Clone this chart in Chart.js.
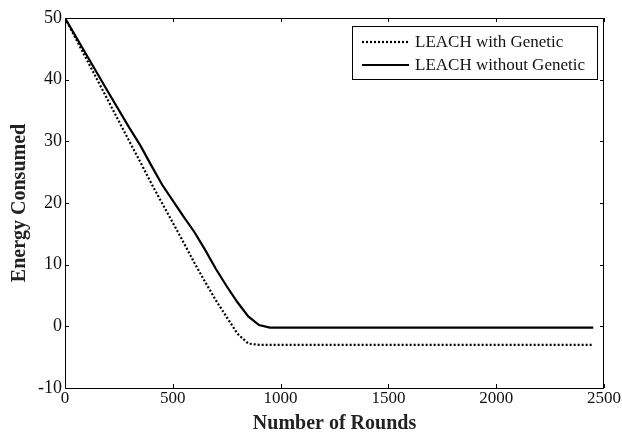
<!DOCTYPE html>
<html>
<head>
<meta charset="utf-8">
<script src="https://cdn.jsdelivr.net/npm/chart.js@4/dist/chart.umd.min.js"></script>
<style>
    html, body { margin: 0; padding: 0; background: #fff; }
    #wrap { width: 622px; height: 434px; }
</style>
</head>
<body>
<div id="wrap"><canvas id="energyChart"></canvas></div>
<script>
const rounds = [0, 100, 200, 300, 350, 400, 450, 500, 550, 600, 650, 700, 750, 800, 850, 900, 950, 1000, 1500, 2000, 2450];
const withGenetic = [50, 43.3, 36.6, 29.9, 26.6, 23.2, 20, 16.8, 13.6, 10.3, 7.2, 4.2, 1.5, -1.2, -2.8, -3, -3, -3, -3, -3, -3];
const withoutGenetic = [50, 44, 38, 32.1, 29.3, 26.1, 23, 20.4, 17.8, 15.3, 12.4, 9.3, 6.5, 3.9, 1.6, 0.2, -0.2, -0.2, -0.2, -0.2, -0.2];
const xTicks = [0, 500, 1000, 1500, 2000, 2500];
const yTicks = [-10, 0, 10, 20, 30, 40, 50];
const seriesNames = ['LEACH with Genetic', 'LEACH without Genetic'];

const serif = "'Liberation Serif', 'Times New Roman', serif";

function toPoints(xs, ys) {
    return xs.map((x, i) => ({ x: x, y: ys[i] }));
}

// frame box, inward ticks on all four sides, and the boxed legend
const matlabFrame = {
    id: 'matlabFrame',
    afterDraw(chart) {
        const ctx = chart.ctx;
        const area = chart.chartArea;
        const xs = chart.scales.x;
        const ys = chart.scales.y;
        const tickLen = 4;

        ctx.save();
        ctx.strokeStyle = '#000';
        ctx.lineWidth = 1;
        ctx.strokeRect(area.left + 0.5, area.top + 0.5, area.right - area.left - 1, area.bottom - area.top);

        ctx.beginPath();
        xTicks.forEach(v => {
            const px = Math.round(xs.getPixelForValue(v)) + 0.5;
            ctx.moveTo(px, area.bottom);
            ctx.lineTo(px, area.bottom - tickLen);
            ctx.moveTo(px, area.top);
            ctx.lineTo(px, area.top + tickLen);
        });
        yTicks.forEach(v => {
            const py = Math.round(ys.getPixelForValue(v)) + 0.5;
            ctx.moveTo(area.left, py);
            ctx.lineTo(area.left + tickLen, py);
            ctx.moveTo(area.right, py);
            ctx.lineTo(area.right - tickLen, py);
        });
        ctx.stroke();

        // legend
        const boxRight = area.right - 7;
        const boxTop = area.top + 8;
        const boxW = 245;
        const boxH = 53;
        const boxLeft = boxRight - boxW;
        ctx.fillStyle = '#fff';
        ctx.fillRect(boxLeft, boxTop, boxW, boxH);
        ctx.strokeStyle = '#000';
        ctx.lineWidth = 1;
        ctx.strokeRect(boxLeft + 0.5, boxTop + 0.5, boxW, boxH);

        ctx.font = '17px ' + serif;
        ctx.textBaseline = 'middle';
        ctx.textAlign = 'left';
        chart.data.datasets.forEach((ds, i) => {
            const cy = boxTop + 16 + i * 23;
            ctx.beginPath();
            ctx.strokeStyle = ds.borderColor;
            ctx.lineWidth = ds.borderWidth;
            ctx.setLineDash(ds.borderDash || []);
            ctx.moveTo(boxLeft + 10, cy);
            ctx.lineTo(boxLeft + 57, cy);
            ctx.stroke();
            ctx.setLineDash([]);
            ctx.fillStyle = '#111';
            ctx.fillText(ds.label, boxLeft + 63, cy + 1);
        });
        ctx.restore();
    }
};

new Chart(document.getElementById('energyChart'), {
    type: 'line',
    data: {
        datasets: [
            {
                label: seriesNames[0],
                data: toPoints(rounds, withGenetic),
                borderColor: '#000',
                borderWidth: 2.2,
                borderDash: [2, 2],
                pointRadius: 0,
                tension: 0,
                fill: false
            },
            {
                label: seriesNames[1],
                data: toPoints(rounds, withoutGenetic),
                borderColor: '#000',
                borderWidth: 2.2,
                pointRadius: 0,
                tension: 0,
                fill: false
            }
        ]
    },
    options: {
        responsive: true,
        maintainAspectRatio: false,
        animation: false,
        layout: { padding: { top: 18, right: 18, left: 8, bottom: 0 } },
        plugins: {
            legend: { display: false },
            tooltip: { enabled: false }
        },
        scales: {
            x: {
                type: 'linear',
                min: 0,
                max: 2500,
                afterBuildTicks: scale => { scale.ticks = xTicks.map(v => ({ value: v })); },
                afterFit: scale => { scale.height = 46; },
                grid: { display: false, drawTicks: false },
                border: { display: false },
                ticks: {
                    color: '#111',
                    font: { family: serif, size: 17 },
                    padding: 0,
                    maxRotation: 0,
                    callback: v => String(v)
                },
                title: {
                    display: true,
                    text: 'Number of Rounds',
                    color: '#222',
                    font: { family: serif, size: 20, weight: 'bold' },
                    padding: { top: 0, bottom: -2 }
                }
            },
            y: {
                type: 'linear',
                min: -10,
                max: 50,
                afterBuildTicks: scale => { scale.ticks = yTicks.map(v => ({ value: v })); },
                afterFit: scale => { scale.width = 57; },
                grid: { display: false, drawTicks: false },
                border: { display: false },
                ticks: { color: '#111', font: { family: serif, size: 18 }, padding: 3 },
                title: {
                    display: true,
                    text: 'Energy Consumed',
                    color: '#222',
                    font: { family: serif, size: 20, weight: 'bold' },
                    padding: { top: 0, bottom: 0 }
                }
            }
        }
    },
    plugins: [matlabFrame]
});
</script>
</body>
</html>
